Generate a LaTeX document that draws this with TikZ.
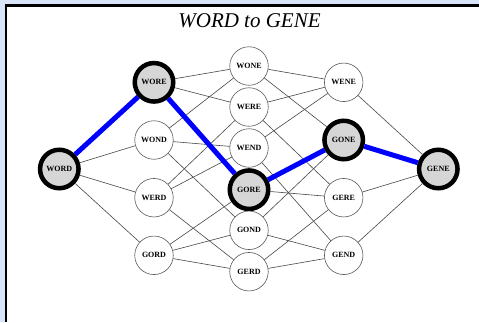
\documentclass[tikz,border=0pt]{standalone}
\usepackage{fontspec}
\setmainfont{Liberation Serif}
\definecolor{bgblue}{HTML}{D8E5F8}
\definecolor{hlgray}{HTML}{D6D6D6}
\begin{document}
\begin{tikzpicture}[x=1pt,y=-1pt,
  wnode/.style={circle,draw=black!65,line width=0.6pt,fill=white,minimum size=38.5pt,inner sep=0pt,
    font=\bfseries\fontsize{8}{9}\selectfont},
  hnode/.style={wnode,draw=black,line width=4.5pt,fill=hlgray},
  edge/.style={draw=black!72,line width=0.6pt},
  bluepath/.style={draw=blue,line width=5pt}]
\useasboundingbox (0,0) rectangle (479,322);
\fill[bgblue] (0,0) rectangle (479,322);
\fill[white] (6,5.5) rectangle (479,322);
\draw[line width=2.2pt] (6,322) -- (6,5.5) -- (479,5.5);
\node[font=\itshape\fontsize{21}{24}\selectfont] (title) at (249.5,20.5) {WORD to GENE};
% layer 0
\node[hnode] (WORD) at (59.3,169) {WORD};
% layer 1
\node[hnode] (WORE) at (154,82.3) {WORE};
\node[wnode] (WOND) at (154,140) {WOND};
\node[wnode] (WERD) at (154,197.7) {WERD};
\node[wnode] (GORD) at (154,255.3) {GORD};
% layer 2
\node[wnode] (WONE) at (249,66) {WONE};
\node[wnode] (WERE) at (249,107) {WERE};
\node[wnode] (WEND) at (249,148) {WEND};
\node[hnode] (GORE) at (249,189.7) {GORE};
\node[wnode] (GOND) at (249,230.3) {GOND};
\node[wnode] (GERD) at (249,271.7) {GERD};
% layer 3
\node[wnode] (WENE) at (343.7,82.3) {WENE};
\node[hnode] (GONE) at (343.7,140) {GONE};
\node[wnode] (GERE) at (343.7,197.7) {GERE};
\node[wnode] (GEND) at (343.7,255.3) {GEND};
% layer 4
\node[hnode] (GENE) at (438.3,169) {GENE};
% edges
\draw[edge] (WORD) -- (WOND);
\draw[edge] (WORD) -- (WERD);
\draw[edge] (WORD) -- (GORD);
\draw[edge] (WORE) -- (WONE);
\draw[edge] (WORE) -- (WERE);
\draw[edge] (WOND) -- (WONE);
\draw[edge] (WOND) -- (WEND);
\draw[edge] (WOND) -- (GOND);
\draw[edge] (WERD) -- (WERE);
\draw[edge] (WERD) -- (WEND);
\draw[edge] (WERD) -- (GERD);
\draw[edge] (GORD) -- (GORE);
\draw[edge] (GORD) -- (GOND);
\draw[edge] (GORD) -- (GERD);
\draw[edge] (WONE) -- (WENE);
\draw[edge] (WONE) -- (GONE);
\draw[edge] (WERE) -- (WENE);
\draw[edge] (WERE) -- (GERE);
\draw[edge] (WEND) -- (WENE);
\draw[edge] (WEND) -- (GEND);
\draw[edge] (GORE) -- (GERE);
\draw[edge] (GOND) -- (GONE);
\draw[edge] (GOND) -- (GEND);
\draw[edge] (GERD) -- (GERE);
\draw[edge] (GERD) -- (GEND);
\draw[edge] (WENE) -- (GENE);
\draw[edge] (GERE) -- (GENE);
\draw[edge] (GEND) -- (GENE);
% highlighted path
\draw[bluepath] (WORD) -- (WORE);
\draw[bluepath] (WORE) -- (GORE);
\draw[bluepath] (GORE) -- (GONE);
\draw[bluepath] (GONE) -- (GENE);
\end{tikzpicture}
\end{document}
